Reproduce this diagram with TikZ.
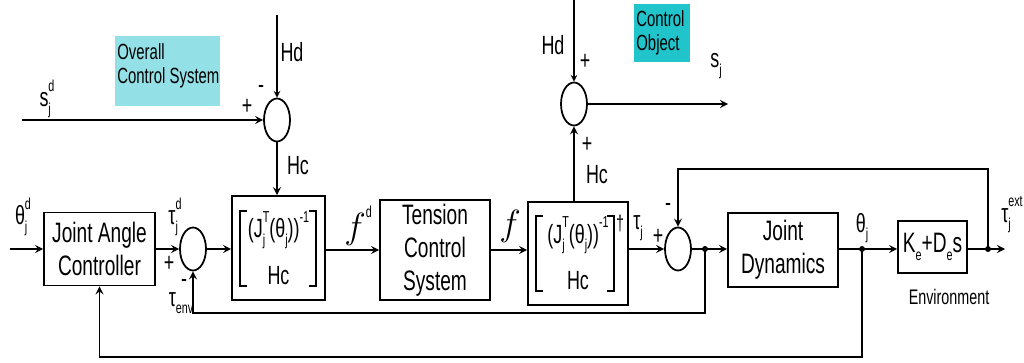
\documentclass[tikz,border=0pt]{standalone}
\usepackage{fontspec}
\setmainfont[FakeStretch=0.68]{Liberation Sans}
\usepackage{tikz}
\usetikzlibrary{shapes.geometric}

\definecolor{ocscol}{RGB}{147,225,230}
\definecolor{cobcol}{RGB}{34,196,204}
\newcommand{\lowx}[1]{\raisebox{-0.55ex}{\fontsize{9}{9}\selectfont #1}}
\newcommand{\highx}[1]{\raisebox{1.1ex}{\fontsize{9}{9}\selectfont #1}}

\begin{document}
\begin{tikzpicture}[x=0.02cm, y=-0.02cm, >=stealth,
    blockbox/.style={draw, line width=1pt, align=center, inner sep=0pt, font=\fontsize{16}{18.7}\selectfont},
    matbox/.style={blockbox, font=\fontsize{15}{26.5}\selectfont},
    sumnode/.style={draw, ellipse, line width=1pt, minimum width=0.52cm, minimum height=0.86cm, inner sep=0pt},
    lbl/.style={inner sep=0pt, font=\fontsize{15}{17}\selectfont},
    wire/.style={line width=1pt}]
    \useasboundingbox (0,0) rectangle (1024,362);

    % blocks
    \node[blockbox, minimum width=2.22cm, minimum height=1.46cm] (jac) at (99.5,249) {Joint Angle\\Controller};
    \node[sumnode] (sum2) at (193,249) {};
    \node[matbox, minimum width=1.86cm, minimum height=2.08cm] (jt1) at (278.5,248) {(J\rlap{\lowx{j}}\highx{T}(θ\lowx{j}))\highx{-1}\\Hc};
    \node[blockbox, minimum width=2.2cm, minimum height=2cm] (tcs) at (435,250) {Tension\\Control\\System};
    \node[matbox, minimum width=2cm, minimum height=2.06cm] (jt2) at (578,253.5) {(J\rlap{\lowx{j}}\highx{T}(θ\lowx{j}))\highx{-1}\\Hc};
    \node[sumnode] (sum3) at (678,249) {};
    \node[blockbox, minimum width=2.2cm, minimum height=1.48cm] (jd) at (783,250) {Joint\\Dynamics};
    \node[blockbox, minimum width=1.38cm, minimum height=1.04cm] (env) at (932.5,247) {K\lowx{e}+D\lowx{e}s};
    \node[sumnode] (sum1) at (277,120) {};
    \node[sumnode] (sum4) at (574,104) {};

    % brackets of the two matrices
    \draw[line width=0.9pt] ([shift={(16,16)}]jt1.north west) -- ([shift={(9,16)}]jt1.north west) -- ([shift={(9,-15)}]jt1.south west) -- ([shift={(16,-15)}]jt1.south west);
    \draw[line width=0.9pt] ([shift={(-17,16)}]jt1.north east) -- ([shift={(-10,16)}]jt1.north east) -- ([shift={(-10,-15)}]jt1.south east) -- ([shift={(-17,-15)}]jt1.south east);
    \draw[line width=0.9pt] ([shift={(16,15)}]jt2.north west) -- ([shift={(9,15)}]jt2.north west) -- ([shift={(9,-15)}]jt2.south west) -- ([shift={(16,-15)}]jt2.south west);
    \draw[line width=0.9pt] ([shift={(-22,15)}]jt2.north east) -- ([shift={(-15,15)}]jt2.north east) -- ([shift={(-15,-15)}]jt2.south east) -- ([shift={(-22,-15)}]jt2.south east);
    \node[lbl, font=\fontsize{12}{12}\selectfont] (dag) at (620,224) {†};

    % coloured notes
    \node[fill=ocscol, minimum width=2.1cm, minimum height=1.4cm, anchor=north west, inner sep=0pt] (ocs) at (115,36) {};
    \node[anchor=north west, align=left, inner sep=0pt, font=\fontsize{12.5}{14}\selectfont] (ocstext) at ([shift={(2,7)}]ocs.north west) {Overall\\Control System};
    \node[fill=cobcol, minimum width=1.12cm, minimum height=1.16cm, anchor=north west, inner sep=0pt] (cob) at (634,4) {};
    \node[anchor=north west, align=left, inner sep=0pt, font=\fontsize{12.5}{14}\selectfont] (cobtext) at ([shift={(2,6)}]cob.north west) {Control\\Object};

    % free ends and branch points
    \coordinate (sjdin) at (22,120);
    \coordinate (hdin1) at (277,15);
    \coordinate (thdin) at (10,249);
    \coordinate (hdin2) at (574,0);
    \coordinate (sjout) at (728,104);
    \coordinate (d1) at (705,249);
    \coordinate (d2) at (862,249);
    \coordinate (d3) at (988,249);
    \coordinate (tout) at (1005,249);

    % signal lines
    \draw[wire,->] (sjdin) -- (sum1.west);
    \draw[->,line width=0.7pt] (hdin1) -- (sum1.north);
    \draw[wire,->] (sum1.south) -- (sum1.south |- jt1.north);
    \draw[wire,->] (thdin) -- (jac.west);
    \draw[wire,->] (jac.east) -- (sum2.west);
    \draw[wire,->] (sum2.east) -- (sum2.east -| jt1.west);
    \draw[wire,->] (jt1.east |- tcs.west) -- (tcs.west);
    \draw[wire,->] (tcs.east) -- (tcs.east -| jt2.west);
    \draw[wire,->] (jt2.north -| sum4) -- (sum4.south);
    \draw[->,line width=0.7pt] (hdin2) -- (sum4.north);
    \draw[wire,->] (sum4.east) -- (sjout);
    \draw[wire,->] (jt2.east |- sum3) -- (sum3.west);
    \draw[wire,->] (sum3.east) -- (d1) -- (d1 -| jd.west);
    \draw[wire,->] (jd.east |- d2) -- (d2) -- (d2 -| env.west);
    \draw[wire,->] (env.east |- d3) -- (d3) -- (tout);
    \draw[wire,->] (d3) -- (d3 |- 0,169) -| (sum3.north);
    \draw[wire,->] (d1) -- (d1 |- 0,313) -| (sum2.south);
    \draw[wire,->] (d2) -- (d2 |- 0,357) -| (jac.south);
    \foreach \p in {d1,d2,d3}
        \fill (\p) circle[radius=1.7pt];

    % labels
    \node[lbl] (sjd) at (47,99) {s\rlap{\lowx{j}}\highx{d}};
    \node[lbl] (hd1) at (292,52) {Hd};
    \node[lbl] (mi1) at (261,89) {-};
    \node[lbl] (pl1) at (247,107) {+};
    \node[lbl] (hc1) at (298,166) {Hc};
    \node[lbl] (thd) at (23,217) {θ\rlap{\lowx{j}}\highx{d}};
    \node[lbl] (tjd) at (175,217) {τ\rlap{\lowx{j}}\highx{d}};
    \node[lbl] (pl2) at (169,264) {+};
    \node[lbl] (mi2) at (184,283) {-};
    \node[lbl] (tenv) at (181,303) {τ\lowx{env}};
    \node[lbl, font=\fontsize{20}{20}\selectfont] (fd) at (358,226) {$f$\highx{d}};
    \node[lbl, font=\fontsize{20}{20}\selectfont] (ff) at (510,226) {$f$};
    \node[lbl] (tj) at (638,228) {τ\lowx{j}};
    \node[lbl] (pl3) at (658,237) {+};
    \node[lbl] (mi3) at (668,207) {-};
    \node[lbl] (thj) at (862,228) {θ\lowx{j}};
    \node[lbl] (tje) at (1012,215) {τ\rlap{\lowx{j}}\highx{ext}};
    \node[lbl, font=\fontsize{12}{12}\selectfont] (envl) at (949,297) {Environment};
    \node[lbl] (hd2) at (553,45) {Hd};
    \node[lbl] (pl4) at (585,62) {+};
    \node[lbl] (pl5) at (587,145) {+};
    \node[lbl] (hc2) at (597,175) {Hc};
    \node[lbl] (sj) at (716,66) {s\lowx{j}};
\end{tikzpicture}
\end{document}
